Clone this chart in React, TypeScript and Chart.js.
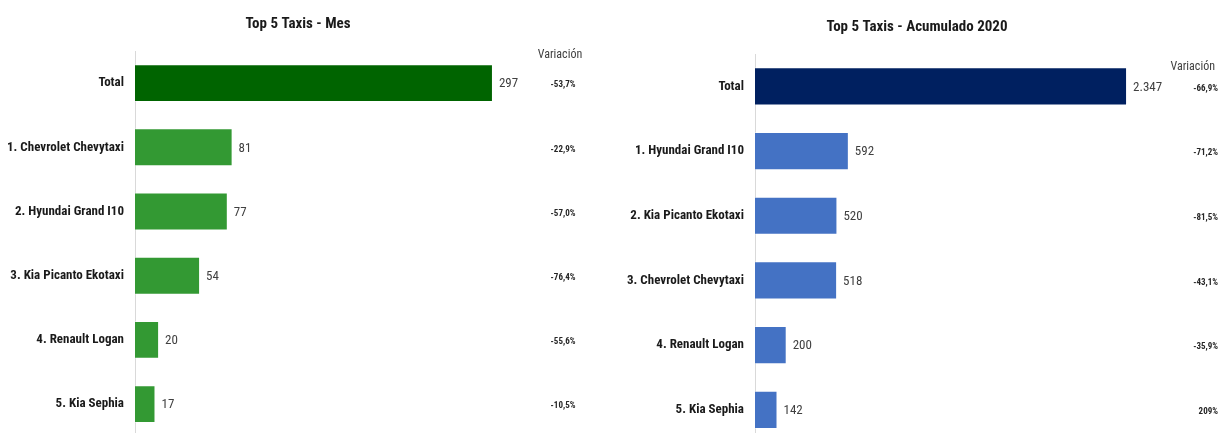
import React, { useEffect, useRef } from "react";
import { Chart, registerables } from "chart.js";

Chart.register(...registerables);

// ---- Data ----
const monthCategories = [
  "Total",
  "1. Chevrolet Chevytaxi",
  "2. Hyundai Grand I10",
  "3. Kia Picanto Ekotaxi",
  "4. Renault Logan",
  "5. Kia Sephia",
];
const monthValues = [297, 81, 77, 54, 20, 17];
const monthVariation = ["-53,7%", "-22,9%", "-57,0%", "-76,4%", "-55,6%", "-10,5%"];

const ytdCategories = [
  "Total",
  "1. Hyundai Grand I10",
  "2. Kia Picanto Ekotaxi",
  "3. Chevrolet Chevytaxi",
  "4. Renault Logan",
  "5. Kia Sephia",
];
const ytdValues = [2347, 592, 520, 518, 200, 142];
const ytdVariation = ["-66,9%", "-71,2%", "-81,5%", "-43,1%", "-35,9%", "209%"];

const FONT = "'Roboto Condensed', 'Open Sans Condensed', sans-serif";

const fmt = (v: number) => String(v).replace(/\B(?=(\d{3})+(?!\d))/g, ".");

type Cfg = {
  title: string;
  categories: string[];
  values: number[];
  variation: string[];
  colors: string[];
  max: number;
  axisWidth: number;
  titlePadTop: number;
  titlePadBottom: number;
  width: number;
  height: number;
  varX: number;
  varAlign: CanvasTextAlign;
  headerX: number;
  headerDy: number;
};

function BarPanel({ cfg, left }: { cfg: Cfg; left: number }) {
  const ref = useRef<HTMLCanvasElement>(null);
  useEffect(() => {
    if (!ref.current) return;
    const extras = {
      id: "extras",
      afterDatasetsDraw(chart: any) {
        const ctx = chart.ctx;
        const meta = chart.getDatasetMeta(0);
        ctx.save();
        ctx.textBaseline = "middle";
        ctx.textAlign = "left";
        ctx.fillStyle = "#404040";
        ctx.font = `13px ${FONT}`;
        meta.data.forEach((bar: any, i: number) => {
          ctx.fillText(fmt(cfg.values[i]), bar.x + 6, bar.y + 1);
        });
        ctx.fillStyle = "#262626";
        ctx.font = `bold 9px ${FONT}`;
        ctx.textAlign = cfg.varAlign;
        meta.data.forEach((bar: any, i: number) => {
          ctx.fillText(cfg.variation[i], cfg.varX, bar.y + 2);
        });
        ctx.font = `12px ${FONT}`;
        ctx.fillStyle = "#404040";
        const first = meta.data[0];
        ctx.fillText("Variación", cfg.headerX, first.y + cfg.headerDy);
        ctx.restore();
      },
    };
    const chart = new Chart(ref.current, {
      type: "bar",
      data: {
        labels: cfg.categories,
        datasets: [
          {
            data: cfg.values,
            backgroundColor: cfg.colors,
            borderColor: "rgba(255,255,255,0.35)",
            borderWidth: 1,
            barPercentage: 0.59,
            categoryPercentage: 1,
          },
        ],
      },
      options: {
        indexAxis: "y",
        responsive: false,
        animation: false,
        layout: { padding: { left: 0, right: 0, top: 0, bottom: 0 } },
        plugins: {
          legend: { display: false },
          tooltip: { enabled: false },
          title: {
            display: true,
            text: cfg.title,
            color: "#1a1a1a",
            font: { family: FONT, size: 15, weight: "bold" },
            padding: { top: cfg.titlePadTop, bottom: cfg.titlePadBottom },
          },
        },
        scales: {
          x: { display: false, min: 0, max: cfg.max },
          y: {
            afterFit: (scale: any) => {
              scale.width = cfg.axisWidth;
            },
            grid: { display: false, drawTicks: false },
            border: { display: true, color: "#d9d9d9", width: 1 },
            ticks: {
              padding: 11,
              color: "#1a1a1a",
              font: { family: FONT, size: 13, weight: "bold" },
            },
          },
        },
      },
      plugins: [extras],
    } as any);
    return () => chart.destroy();
  }, [cfg]);
  return (
    <canvas
      ref={ref}
      width={cfg.width}
      height={cfg.height}
      style={{ position: "absolute", left, top: 0, width: cfg.width, height: cfg.height }}
    />
  );
}

const leftCfg: Cfg = {
  title: "Top 5 Taxis - Mes",
  categories: monthCategories,
  values: monthValues,
  variation: monthVariation,
  colors: ["#006400", "#339933", "#339933", "#339933", "#339933", "#339933"],
  max: 382.5,
  axisWidth: 135,
  titlePadTop: 15,
  titlePadBottom: 18,
  width: 596,
  height: 455,
  varX: 563,
  varAlign: "center",
  headerX: 560,
  headerDy: -28,
};

const rightCfg: Cfg = {
  title: "Top 5 Taxis - Acumulado 2020",
  categories: ytdCategories,
  values: ytdValues,
  variation: ytdVariation,
  colors: ["#002060", "#4472c4", "#4472c4", "#4472c4", "#4472c4", "#4472c4"],
  max: 2927,
  axisWidth: 140,
  titlePadTop: 18,
  titlePadBottom: 18,
  width: 604,
  height: 461,
  varX: 603,
  varAlign: "right",
  headerX: 600,
  headerDy: -19,
};

export default function App() {
  return (
    <div
      style={{
        position: "fixed",
        left: 0,
        top: 0,
        width: 1219,
        height: 433,
        overflow: "hidden",
        background: "#ffffff",
      }}
    >
      <BarPanel cfg={leftCfg} left={0} />
      <BarPanel cfg={rightCfg} left={615} />
    </div>
  );
}
